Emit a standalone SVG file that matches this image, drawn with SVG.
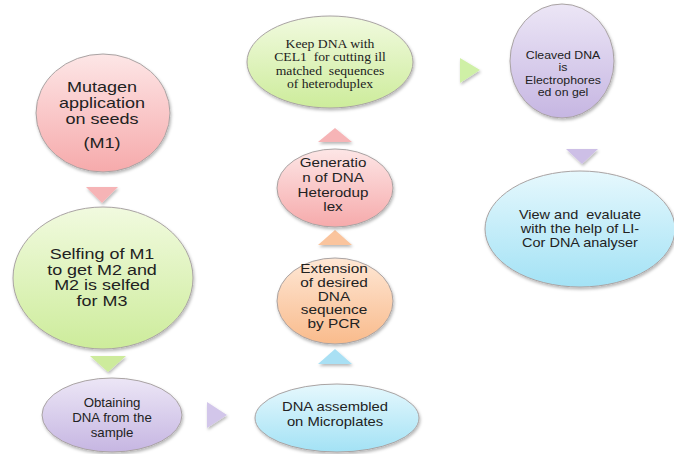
<svg xmlns="http://www.w3.org/2000/svg" width="674" height="454" viewBox="0 0 674 454">
<defs>
<linearGradient id="gPink" x1="0" y1="0" x2="0" y2="1"><stop offset="0" stop-color="#fde6e6"/><stop offset="1" stop-color="#f6aaab"/></linearGradient>
<linearGradient id="gGreen" x1="0" y1="0" x2="0" y2="1"><stop offset="0" stop-color="#f1fadf"/><stop offset="1" stop-color="#cdec9b"/></linearGradient>
<linearGradient id="gPurple" x1="0" y1="0" x2="0" y2="1"><stop offset="0" stop-color="#ece6f6"/><stop offset="1" stop-color="#c6b6e2"/></linearGradient>
<linearGradient id="gBlue" x1="0" y1="0" x2="0" y2="1"><stop offset="0" stop-color="#e6f8fd"/><stop offset="1" stop-color="#a3e2f5"/></linearGradient>
<linearGradient id="gOrange" x1="0" y1="0" x2="0" y2="1"><stop offset="0" stop-color="#fee7d5"/><stop offset="1" stop-color="#f9bb8c"/></linearGradient>
<filter id="sh" x="-20%" y="-20%" width="140%" height="150%"><feDropShadow dx="1" dy="2" stdDeviation="1.6" flood-color="#000" flood-opacity="0.28"/></filter>
</defs>
<style>
.n{stroke:#a9a3a3;stroke-width:1;filter:url(#sh)}
.a{filter:url(#sh)}
text{font-family:"Liberation Sans",Arial,sans-serif;fill:#222;text-anchor:middle}
.serif{font-family:"Liberation Serif","DejaVu Serif",serif;white-space:pre}
.pre{white-space:pre}
</style>

<g id="connectors">
<polygon class="a" points="86,187 118,187 102,203" fill="#f6b4b6"/>
<polygon class="a" points="90,356 126,356 108,372" fill="#cdeb9c"/>
<polygon class="a" points="207,402 207,428 227,415" fill="#d2c6ea"/>
<polygon class="a" points="318,364 352,364 335,349" fill="#a9e0f4"/>
<polygon class="a" points="318,245 352,245 335,230" fill="#fac49d"/>
<polygon class="a" points="318,142 352,142 335,128" fill="#f6b4b6"/>
<polygon class="a" points="460,58 460,83 480,70" fill="#cff0a6"/>
<polygon class="a" points="566,149 598,149 582,164" fill="#cdbfe6"/>
</g>

<g id="n1">
<ellipse class="n" cx="103" cy="113" rx="67" ry="59" fill="url(#gPink)"/>
<g transform="translate(102,0) scale(1.27,1)" style="font-size:14.2px">
<text x="0" y="92">Mutagen</text>
<text x="0" y="108">application</text>
<text x="0" y="124">on seeds</text>
<text x="0" y="148">(M1)</text>
</g>
</g>

<g id="n2">
<ellipse class="n" cx="103" cy="278" rx="90" ry="71" fill="url(#gGreen)"/>
<g transform="translate(102,0) scale(1.3,1)" style="font-size:13.8px">
<text x="0" y="259">Selfing of M1</text>
<text x="0" y="275">to get M2 and</text>
<text x="0" y="290.5">M2 is selfed</text>
<text x="0" y="306">for M3</text>
</g>
</g>

<g id="n3">
<ellipse class="n" cx="112" cy="415" rx="70" ry="37" fill="url(#gPurple)"/>
<g transform="translate(112,0) scale(1.02,1)" style="font-size:13px">
<text x="0" y="407">Obtaining</text>
<text x="0" y="422">DNA from the</text>
<text x="0" y="437">sample</text>
</g>
</g>

<g id="n4">
<ellipse class="n" cx="337" cy="418" rx="82" ry="34" fill="url(#gBlue)"/>
<g transform="translate(335,0) scale(1.14,1)" style="font-size:13px">
<text x="0" y="411">DNA assembled</text>
<text x="0" y="426">on Microplates</text>
</g>
</g>

<g id="n5">
<ellipse class="n" cx="335" cy="301" rx="58" ry="43" fill="url(#gOrange)"/>
<g transform="translate(334,0) scale(1.25,1)" style="font-size:12.3px">
<text x="0" y="273">Extension</text>
<text x="0" y="287">of desired</text>
<text x="0" y="301">DNA</text>
<text x="0" y="314.5">sequence</text>
<text x="0" y="328.5">by PCR</text>
</g>
</g>

<g id="n6">
<ellipse class="n" cx="335" cy="188" rx="58" ry="39" fill="url(#gPink)"/>
<g transform="translate(333,0) scale(1.17,1)" style="font-size:13px">
<text x="0" y="167">Generatio</text>
<text x="0" y="182">n of DNA</text>
<text x="0" y="197">Heterodup</text>
<text x="0" y="211.5">lex</text>
</g>
</g>

<g id="n7">
<ellipse class="n" cx="330" cy="62" rx="83" ry="46" fill="url(#gGreen)"/>
<g transform="translate(330,0) scale(1.14,1)" style="font-size:12px">
<text class="serif" x="0" y="48">Keep DNA with</text>
<text class="serif" x="0" y="61.5">CEL1  for cutting ill</text>
<text class="serif" x="0" y="75">matched  sequences</text>
<text class="serif" x="0" y="88.5">of heteroduplex</text>
</g>
</g>

<g id="n8">
<ellipse class="n" cx="562" cy="61" rx="52" ry="57" fill="url(#gPurple)"/>
<g transform="translate(563,0) scale(1.12,1)" style="font-size:11px">
<text x="0" y="59">Cleaved DNA</text>
<text x="0" y="71.5">is</text>
<text x="0" y="84">Electrophores</text>
<text x="0" y="96.5">ed on gel</text>
</g>
</g>

<g id="n9">
<ellipse class="n" cx="580" cy="229" rx="95" ry="58" fill="url(#gBlue)"/>
<g transform="translate(580,0) scale(1.16,1)" style="font-size:12.5px">
<text class="pre" x="0" y="219">View and  evaluate</text>
<text x="0" y="233">with the help of LI-</text>
<text x="0" y="247">Cor DNA analyser</text>
</g>
</g>
</svg>
